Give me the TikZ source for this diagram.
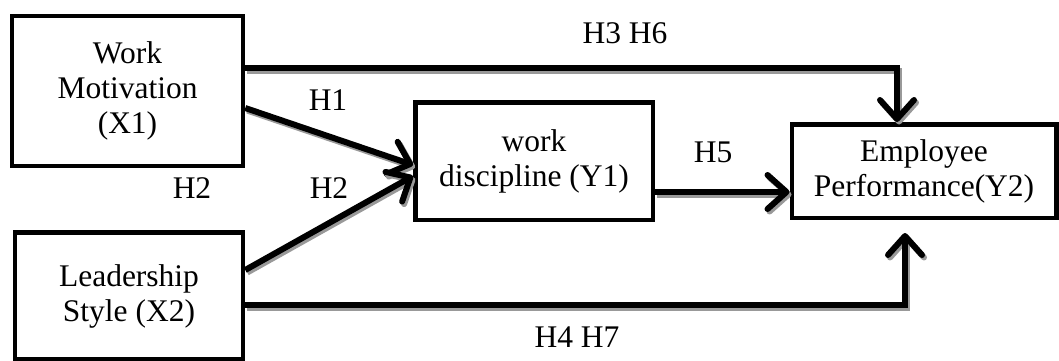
\documentclass[tikz,border=0pt]{standalone}
\usepackage{fontspec}
\setmainfont{Liberation Serif}
\usetikzlibrary{arrows.meta,calc}
\begin{document}
\begin{tikzpicture}[x=1pt,y=-1pt,
  box/.style={draw,line width=4.5pt,align=center,inner sep=0pt,
    font=\fontsize{31.5}{35}\selectfont},
  tip/.style={-{Straight Barb[length=19pt,width=34pt,line cap=round,line join=round]}},
  arr/.style={line width=6pt,tip,
    preaction={draw=black!40,line width=6pt,tip,
      transform canvas={shift={(2pt,-2.5pt)}}}},
  lab/.style={font=\fontsize{31.5}{35}\selectfont,inner sep=0pt}]
\useasboundingbox (0,0) rectangle (1059,361);
\fill[white] (0,0) rectangle (1059,361);
\node[box,minimum width=231pt,minimum height=150pt] (X1) at (127.5,91) {Work\\Motivation\\(X1)};
\node[box,minimum width=228pt,minimum height=127pt] (X2) at (129,296) {Leadership\\Style (X2)};
\node[box,minimum width=237.5pt,minimum height=117.5pt] (Y1) at (534,161) {work\\discipline (Y1)};
\node[box,minimum width=264.5pt,minimum height=93.5pt] (Y2) at (924,171) {Employee\\Performance(Y2)};
\draw[arr] ($(X1.east)+(0,-23)$) -| ($(Y2.north)+(-27,0)$);
\draw[arr] ($(X1.east)+(0,17)$) -- ($(Y1.west)+(0,4)$);
\draw[arr] ($(X2.east)+(0,-26)$) -- ($(Y1.west)+(0,15)$);
\draw[arr] ($(Y1.east)+(0,31)$) -- ($(Y2.west)+(0,21)$);
\draw[arr] ($(X2.east)+(0,9)$) -| ($(Y2.south)+(-19,13)$);
\node[lab] (h36) at (625,33.5) {H3 H6};
\node[lab] (h1) at (328,100) {H1};
\node[lab] (h2a) at (192,188) {H2};
\node[lab] (h2b) at (329,188) {H2};
\node[lab] (h5) at (713,152) {H5};
\node[lab] (h47) at (577,337) {H4 H7};
\end{tikzpicture}
\end{document}
